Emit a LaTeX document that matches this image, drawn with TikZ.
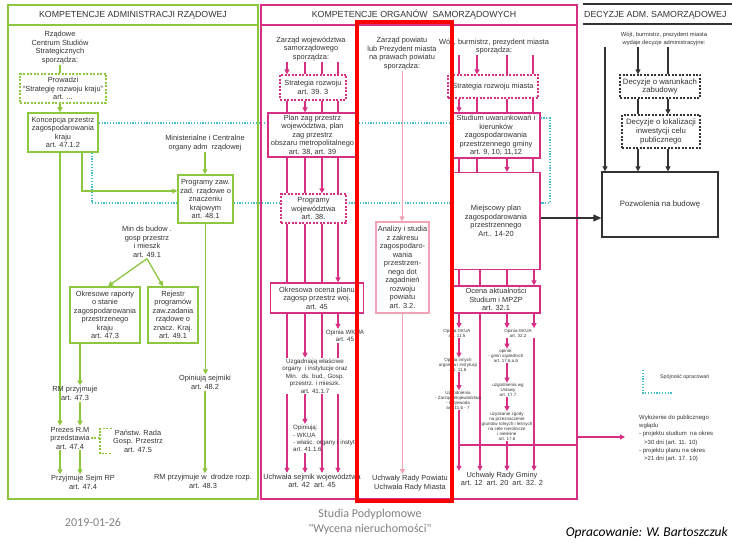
\documentclass[tikz,border=0pt]{standalone}
\usepackage{fontspec}
\setmainfont{Liberation Sans}
\newfontfamily\slidefont{Carlito}
\usepackage{tikz}
\usetikzlibrary{arrows.meta,backgrounds}

\definecolor{grn}{HTML}{8DC63F}
\definecolor{mag}{HTML}{D62F84}
\definecolor{pnk}{HTML}{F4A3B6}
\definecolor{cyn}{HTML}{45BCCB}
\definecolor{ink}{HTML}{333333}
\definecolor{footgray}{HTML}{808080}

\newcommand{\fmain}{\fontsize{7.4}{8.5}\selectfont}
\newcommand{\fsmall}{\fontsize{6.2}{7.4}\selectfont}
\newcommand{\fmini}{\fontsize{4.5}{5}\selectfont}

\begin{document}
\begin{tikzpicture}[
  x=1pt, y=-1pt,
  every node/.style={text=ink, font=\fmain, align=center, inner sep=1pt},
  endtip/.style={-{Triangle[length=5pt,width=5pt]}},
  gline/.style={draw=grn, line width=1.3pt},
  garrow/.style={gline, endtip},
  gbox/.style={draw=grn, line width=1.5pt, fill=white},
  gdash/.style={gbox, dash pattern=on 2pt off 1.5pt},
  mline/.style={draw=mag, line width=1.1pt},
  marrow/.style={mline, endtip},
  mbox/.style={draw=mag, line width=1.3pt, fill=white},
  mdash/.style={mbox, dash pattern=on 2pt off 1.5pt},
  pline/.style={draw=pnk, line width=1pt},
  parrow/.style={pline, endtip},
  pbox/.style={draw=pnk, line width=1.2pt, fill=white},
  kline/.style={draw=ink, line width=1.1pt},
  karrow/.style={kline, endtip},
  kbox/.style={draw=ink, line width=1.3pt, fill=white, font=\fontsize{7.8}{8.6}\selectfont},
  kdash/.style={kbox, dash pattern=on 2pt off 1.5pt},
  linkdots/.style={draw=cyn, line width=1.4pt, dash pattern=on 1.2pt off 1.6pt},
  hdr/.style={font=\fontsize{8.8}{10}\selectfont},
  smalltext/.style={font=\fsmall},
  minitext/.style={font=\fmini, inner sep=0.5pt},
  slidetext/.style={text=footgray, font=\slidefont\fontsize{12}{15}\selectfont}
  ]

  \useasboundingbox (0,0) rectangle (732,543);

  % panels
  \draw[grn, line width=2.5pt] (8,5) rectangle (258,499);
  \draw[grn, line width=1.8pt] (8,25) -- (258,25);
  \draw[mag, line width=2pt] (261,5) rectangle (577,499);
  \draw[mag, line width=1.6pt] (261,25) -- (577,25);
  \draw[ink, line width=2pt] (583,4) -- (732,4);
  \draw[ink, line width=1.4pt] (583,24) -- (732,24);
  \node[hdr] (hgov) at (133,15) {KOMPETENCJE ADMINISTRACJI RZĄDOWEJ};
  \node[hdr] (hsam) at (414,15) {KOMPETENCJE ORGANÓW \ SAMORZĄDOWYCH};
  \node[hdr, anchor=west] (hdec) at (583,15) {DECYZJE ADM. SAMORZĄDOWEJ};

  % administracja rzadowa
  \node (rcss) at (60,47.5) {Rządowe\\Centrum Studiów\\Strategicznych\\sporządza:};
  \node[gdash, minimum width=86, minimum height=29] (skraj) at (63,88.5) {Prowadzi\\“Strategię rozwoju kraju”\\art. ...};
  \node[gbox, minimum width=70, minimum height=39] (kpzk) at (63,132.5) {Koncepcja przestrz\\zagospodarowania\\kraju\\art. 47.1.2};
  \node (mcor) at (205,143) {Ministerialne i Centralne\\organy adm \ rządowej};
  \node[gbox, minimum width=55, minimum height=48] (pzr) at (205.5,199) {Programy zaw.\\zad. rządowe o\\znaczeniu\\krajowym\\art. 48.1};
  \node (minb) at (147,242) {Min ds budow .\\gosp przestrz\\i mieszk\\art. 49.1};
  \node[gbox, minimum width=70, minimum height=56] (rap) at (105,315) {Okresowe raporty\\o stanie\\zagospodarowania\\przestrzenego\\kraju\\art. 47.3};
  \node[gbox, minimum width=50, minimum height=56] (rej) at (173,315) {Rejestr\\programów\\zaw.zadania\\rządowe o\\znacz. Kraj.\\art. 49.1};
  \node (opsj) at (205,382.5) {Opiniują sejmiki\\art. 48.2};
  \node (rmroz) at (203,481.5) {RM przyjmuje w \ drodze rozp.\\art. 48.3};
  \node (rm473) at (75,393.5) {RM przyjmuje\\art. 47.3};
  \node (prm) at (70,438) {Prezes R.M\\przedstawia\\art. 47.4};
  \node (prgp) at (138,441) {Państw. Rada\\Gosp. Przestrz\\art. 47.5};
  \node (sejm) at (83,482.5) {Przyjmuje Sejm RP\\art. 47.4};

  % samorzad wojewodztwa
  \node (zwoj) at (311,49) {Zarząd województwa\\samorządowego\\sporządza:};
  \node[mdash, minimum width=66, minimum height=25] (srw) at (313,87.5) {Strategia rozwoju\\art. 39. 3};
  \node[mbox, minimum width=89, minimum height=44] (pzpw) at (312.5,135) {Plan zag przestrz\\województwa, plan\\zag przestrz\\obszaru metropolitalnego\\art. 38, art. 39};
  \node[mdash, minimum width=65, minimum height=29] (prw) at (313.5,208.5) {Programy\\województwa\\art. 38.};
  \node[mbox, minimum width=93, minimum height=30] (ocw) at (317,298) {Okresowa ocena planu\\zagosp przestrz woj.\\art. 45};
  \node[smalltext] (wkua) at (345,336) {Opinia WKUA\\art. 45};
  \node[smalltext, fill=white] (uzgw) at (315,376) {Uzgadniają właściwe\\organy \ i instytucje oraz\\Min. \ ds. bud., Gosp.\\przestrz. i mieszk.\\art. 41.1.7};
  \node[smalltext, align=left, anchor=west] (opw) at (292,438.5) {Opiniują:\\- WKUA\\- właśc. organy i instyt.\\art. 41.1.6};
  \node (uchw) at (312,481) {Uchwała sejmik województwa\\art. 42 \ art. 45};

  % powiat
  \node (zpow) at (402,53.5) {Zarząd powiatu\\lub Prezydent miasta\\na prawach powiatu\\sporządza:};
  \node[pbox, minimum width=53, minimum height=91] (anal) at (402.5,267.5) {Analizy i studia\\z zakresu\\zagospodaro-\\wania\\przestrzen-\\nego dot\\zagadnień\\rozwoju\\powiatu\\art. 3.2.};
  \node (urp) at (410,483) {Uchwały Rady Powiatu\\Uchwała Rady Miasta};

  % gmina
  \node (wbp) at (494,46.5) {Wójt, burmistrz, prezydent miasta\\sporządza:};
  \node[mdash, minimum width=90, minimum height=23] (srm) at (493,86.5) {Strategia rozwoju miasta};
  \node[mbox, minimum width=88, minimum height=45] (suikzp) at (496,135.5) {Studium uwarunkowań i\\kierunków\\zagospodarowania\\przestrzennego gminy\\art. 9, 10, 11,12};
  \node[mbox, minimum width=88, minimum height=97] (mpzp) at (496,221) {Miejscowy plan\\zagospodarowania\\przestrzennego\\Art.. 14-20};
  \node[mbox, minimum width=88, minimum height=27] (ocg) at (496,299.5) {Ocena aktualności\\Studium i MPZP\\art. 32.1};
  \node[minitext] (gk115) at (457,333) {Opinia GKUA\\art. 11.5};
  \node[minitext] (gk322) at (518,333) {Opinia GKUA\\art. 32.2};
  \node[minitext] (ooi) at (458,365) {Opinia innych\\organów i instytucji\\art. 11.6};
  \node[minitext] (uzzw) at (458,400) {Uzgodnienia\\- Zarząd Województwa\\- Wojewoda\\art. 11.6 - 7};
  \node[minitext] (ogs) at (506,356) {opinie:\\- gmin sąsiednich\\art. 17.6.a.b};
  \node[minitext] (uwu) at (508,390) {uzgodnienia wg\\Ustawy\\art. 17.7};
  \node[minitext] (zgoda) at (507,426) {uzyskanie zgody\\na przeznaczenie\\gruntów rolnych i leśnych\\na cele nierolnicze\\i nieleśne\\art. 17.6};
  \node (urg) at (502,479) {Uchwały Rady Gminy\\art. 12 \ art. 20 \ art. 32. 2};
  \coordinate (bus) at (459,445);
  \coordinate (busend) at (577,445);
  \coordinate (wylin) at (577,437);

  % decyzje
  \node[font=\fontsize{5.8}{8}\selectfont] (wbd) at (664,39) {Wójt, burmistrz, prezydent miasta\\wydaje decyzje administracyjne:};
  \node[kdash, minimum width=80, minimum height=23] (dwz) at (660,86.5) {Decyzje o warunkach\\zabudowy};
  \node[kdash, minimum width=78, minimum height=33] (dlicp) at (661,131.5) {Decyzje o lokalizacji\\inwestycji celu\\publicznego};
  \node[kbox, minimum width=116, minimum height=65] (pnb) at (660,204.5) {Pozwolenia na budowę};

  % legenda
  \coordinate (lgd) at (643,370);
  \node[font=\fontsize{5.3}{6}\selectfont, anchor=west] (spoj) at (659,377) {Spójność opracowań};
  \node[font=\fontsize{6}{8.2}\selectfont, align=left, anchor=north west] (wyl) at (638,414) {Wyłożenie do publicznego\\wglądu\\- projektu studium \ na okres\\\hspace*{5pt}>30 dni (art. 11. 10)\\- projektu planu na okres\\\hspace*{5pt}>21 dni (art. 17. 10)};

  % stopka
  \node[slidetext] (date) at (93,522) {2019-01-26};
  \node[slidetext] (studia) at (370,522) {Studia Podyplomowe\\"Wycena nieruchomości"};
  \node[text=black, font=\slidefont\itshape\fontsize{13.5}{15}\selectfont, anchor=east] (auth) at (729,533) {Opracowanie: W. Bartoszczuk};

  \begin{scope}[on background layer]
    \draw[linkdots] (kpzk.east |- 0,123) -- (suikzp.west |- 0,123);
    \draw[linkdots] (92,0 |- kpzk.south) |- (pzr.west |- 0,203);
    \draw[linkdots] (pzr.east |- 0,203) -- (mpzp.west |- 0,203);
    \draw[linkdots] (suikzp.east |- 0,118) -| (550,203) -- (mpzp.east |- 0,203);
    \draw[linkdots] (lgd) |- ++(29,23);

    \draw[gline] (rcss.south) -- (rcss.south |- skraj.north);
    \draw[garrow] (60,0 |- skraj.south) -- (60,0 |- kpzk.north);
    \draw[garrow] (60,0 |- kpzk.south) -- (60,0 |- prm.north);
    \draw[garrow] (82,0 |- kpzk.south) |- (pzr.west |- 0,191);
    \draw[garrow] (mcor.south) -- (mcor.south |- pzr.north);
    \draw[garrow] (pzr.south) -- (pzr.south |- opsj.north);
    \draw[garrow] (opsj.south) -- (opsj.south |- rmroz.north);
    \draw[garrow] (minb.south) -- (108,0 |- rap.north);
    \draw[garrow] (minb.south) -- (163,0 |- rej.north);
    \draw[garrow] (80,0 |- rap.south) -- (80,0 |- rm473.north);
    \draw[garrow] (80,0 |- rm473.south) -- (80,0 |- prm.north);
    \foreach \x in {60,80}
      \draw[garrow] (\x,0 |- prm.south) -- (\x,0 |- sejm.north);
    \draw[gline, dash pattern=on 2pt off 1.5pt] (prm.east) -- (100,0 |- prm.east);
    \draw[gline, dash pattern=on 2pt off 1.5pt] (prgp.north west) -| (100,0 |- prm.east) |- (prgp.south west);

    \draw[marrow] (287,0 |- zwoj.south) -- (287,0 |- srw.north);
    \foreach \x in {305,322,338}
      \draw[mline] (\x,0 |- zwoj.south) -- (\x,0 |- srw.north);
    \foreach \x in {287,322,338}
      \draw[mline] (\x,0 |- srw.south) -- (\x,0 |- pzpw.north);
    \draw[marrow] (305,0 |- srw.south) -- (305,0 |- pzpw.north);
    \foreach \x in {287,305}
      \draw[mline] (\x,0 |- pzpw.south) -- (\x,0 |- prw.north);
    \draw[marrow] (322,0 |- pzpw.south) -- (322,0 |- prw.north);
    \draw[marrow] (338,0 |- pzpw.south) -- (338,0 |- ocw.north);
    \foreach \x in {287,305,322}
      \draw[mline] (\x,0 |- prw.south) -- (\x,0 |- ocw.north);
    \foreach \x in {287,322}
      \draw[marrow] (\x,0 |- ocw.south) -- (\x,0 |- uchw.north);
    \draw[marrow] (305,0 |- ocw.south) -- (305,0 |- uzgw.north);
    \draw[marrow] (338,0 |- ocw.south) -- (338,0 |- wkua.north);
    \draw[marrow] (338,0 |- wkua.south) -- (338,0 |- uchw.north);
    \draw[marrow] (305,0 |- uzgw.south) -- (305,0 |- opw.north);
    \draw[marrow] (305,0 |- opw.south) -- (305,0 |- uchw.north);

    \draw[parrow] (zpow.south) -- (zpow.south |- anal.north);
    \draw[parrow] (anal.south) -- (anal.south |- urp.north);

    \foreach \x in {459,507,533}
      \draw[mline] (\x,0 |- wbp.south) -- (\x,0 |- srm.north);
    \draw[marrow] (477,0 |- wbp.south) -- (477,0 |- srm.north);
    \foreach \x in {477,507,533}
      \draw[mline] (\x,0 |- srm.south) -- (\x,0 |- suikzp.north);
    \draw[marrow] (459,0 |- srm.south) -- (459,0 |- suikzp.north);
    \foreach \x in {459,477,533}
      \draw[mline] (\x,0 |- suikzp.south) -- (\x,0 |- mpzp.north);
    \draw[marrow] (507,0 |- suikzp.south) -- (507,0 |- mpzp.north);
    \foreach \x in {459,480,507}
      \draw[mline] (\x,0 |- mpzp.south) -- (\x,0 |- ocg.north);
    \draw[marrow] (534,0 |- mpzp.south) -- (534,0 |- ocg.north);
    \draw[marrow] (459,0 |- ocg.south) -- (459,0 |- gk115.north);
    \draw[marrow] (507,0 |- ocg.south) -- (507,0 |- gk322.north);
    \draw[marrow] (534,0 |- ocg.south) -- (534,0 |- gk322.north);
    \draw[mline] (480,0 |- ocg.south) -- (480,0 |- bus);
    \draw[marrow] (459,0 |- gk115.south) -- (459,0 |- ooi.north);
    \draw[marrow] (459,0 |- ooi.south) -- (459,0 |- uzzw.north);
    \draw[mline] (459,0 |- uzzw.south) -- (bus);
    \draw[marrow] (507,0 |- gk322.south) -- (507,0 |- ogs.north);
    \draw[marrow] (507,0 |- ogs.south) -- (507,0 |- uwu.north);
    \draw[marrow] (507,0 |- uwu.south) -- (507,0 |- zgoda.north);
    \draw[mline] (507,0 |- zgoda.south) -- (507,0 |- bus);
    \draw[mline] (534,0 |- gk322.south) -- (534,0 |- bus);
    \draw[mline] (bus) -- (busend);
    \foreach \x in {459,480,507,534}
      \draw[marrow] (\x,0 |- bus) -- (\x,0 |- urg.north);
  \end{scope}

  \draw[marrow] (wylin) -- ([xshift=-13pt]wyl.west |- wylin);

  \draw[karrow] (605,0 |- wbd.south) -- (605,0 |- pnb.north);
  \draw[karrow] (638,0 |- wbd.south) -- (638,0 |- dwz.north);
  \draw[kline] (668,0 |- wbd.south) -- (668,0 |- dwz.north);
  \draw[kline] (638,0 |- dwz.south) -- (638,0 |- dlicp.north);
  \draw[karrow] (668,0 |- dwz.south) -- (668,0 |- dlicp.north);
  \foreach \x in {638,668}
    \draw[karrow] (\x,0 |- dlicp.south) -- (\x,0 |- pnb.north);
  \draw[kline, -{Triangle[length=8pt,width=7pt]}] (mpzp.east |- 0,218) -- (pnb.west |- 0,218);

  \draw[red, line width=4pt] (357,22) rectangle (452,501);
\end{tikzpicture}
\end{document}
